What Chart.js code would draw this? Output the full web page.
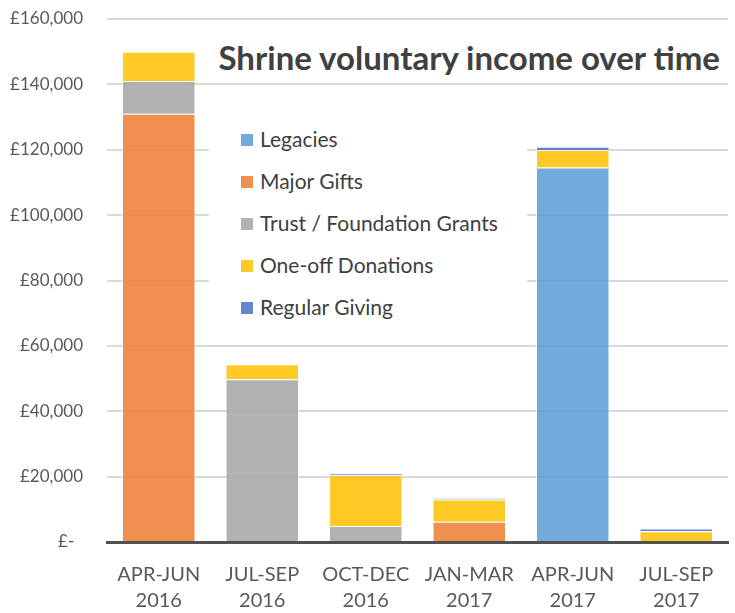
<!DOCTYPE html>
<html lang="en">
<head>
    <meta charset="UTF-8">
    <title>Shrine voluntary income over time</title>
    <script src="https://cdn.jsdelivr.net/npm/chart.js"></script>
    <style>
        body {
            margin: 0;
            background: white;
            font-family: Lato, "Open Sans", sans-serif;
        }
        .wrap {
            position: relative;
            width: 735px;
            height: 613px;
        }
        .title {
            position: absolute;
            left: 200px;
            top: 36px;
            width: 520px;
            text-align: right;
            font-size: 33px;
            font-weight: bold;
            color: #404040;
            background: white;
            line-height: 42px;
            white-space: nowrap;
        }
        .legend {
            position: absolute;
            left: 209px;
            top: 100px;
            width: 318px;
            height: 236px;
            background: white;
        }
        .legend-item {
            position: absolute;
            left: 32px;
            font-size: 21px;
            color: #404040;
            line-height: 26px;
            white-space: nowrap;
        }
        .legend-item span {
            display: inline-block;
            width: 12px;
            height: 12px;
            margin-right: 7px;
            vertical-align: 1px;
        }
    </style>
</head>
<body>
    <div class="wrap">
        <canvas id="chart" width="735" height="613"></canvas>
        <div class="title">Shrine voluntary income over time</div>
        <div class="legend" id="legend"></div>
    </div>
    <script>
        const quarters = [['APR-JUN', '2016'], ['JUL-SEP', '2016'], ['OCT-DEC', '2016'], ['JAN-MAR', '2017'], ['APR-JUN', '2017'], ['JUL-SEP', '2017']];

        const legacies = [null, null, null, null, 114600, null];
        const majorGifts = [131000, null, null, 6200, null, null];
        const trustGrants = [10000, 49800, 4900, null, null, null];
        const oneOffDonations = [9000, 4600, 15600, 6800, 5300, 3300];
        const regularGiving = [null, null, 500, 400, 1000, 800];

        const seriesNames = ['Legacies', 'Major Gifts', 'Trust / Foundation Grants', 'One-off Donations', 'Regular Giving'];
        const seriesColours = ['rgba(91,155,213,0.85)', 'rgba(237,125,49,0.85)', 'rgba(165,165,165,0.85)', 'rgba(255,192,0,0.85)', 'rgba(68,114,196,0.85)'];
        const seriesData = [legacies, majorGifts, trustGrants, oneOffDonations, regularGiving];

        const datasets = seriesNames.map((name, i) => ({
            label: name,
            data: seriesData[i],
            backgroundColor: seriesColours[i],
            borderColor: 'rgba(255,255,255,0.6)',
            borderWidth: 1,
            categoryPercentage: 1,
            barPercentage: 0.71
        }));

        // legend box sits inside the plot, like the original
        let legend = document.getElementById('legend');
        seriesNames.forEach((name, i) => {
            let item = document.createElement('div');
            item.className = 'legend-item';
            item.style.top = (26 + i * 42) + 'px';
            item.innerHTML = '<span style="background:' + seriesColours[i] + '"></span>' + name;
            legend.appendChild(item);
        });

        new Chart(document.getElementById('chart'), {
            type: 'bar',
            data: { labels: quarters, datasets: datasets },
            options: {
                responsive: false,
                animation: false,
                layout: { padding: { top: 19, right: 7, bottom: 0, left: 0 } },
                plugins: {
                    legend: { display: false },
                    tooltip: { enabled: false }
                },
                scales: {
                    x: {
                        stacked: true,
                        grid: { display: false, drawTicks: false },
                        border: { color: '#505050', width: 3 },
                        ticks: {
                            color: '#595959',
                            font: { family: 'Lato', size: 20, lineHeight: 1.3 },
                            padding: 20,
                            maxRotation: 0
                        },
                        afterFit: s => { s.height = 71; s.paddingTop = 0; s.paddingBottom = 0; }
                    },
                    y: {
                        stacked: true,
                        min: 0,
                        max: 160000,
                        grid: { color: '#D9D9D9', lineWidth: 2, drawTicks: false },
                        border: { display: false },
                        ticks: {
                            stepSize: 20000,
                            color: '#595959',
                            font: { family: 'Lato', size: 17 },
                            padding: 24,
                            callback: v => v === 0 ? '£-  ' : '£' + v.toLocaleString('en-GB')
                        },
                        afterFit: s => { s.width = 107; s.paddingTop = 0; s.paddingBottom = 0; }
                    }
                }
            }
        });
    </script>
</body>
</html>
